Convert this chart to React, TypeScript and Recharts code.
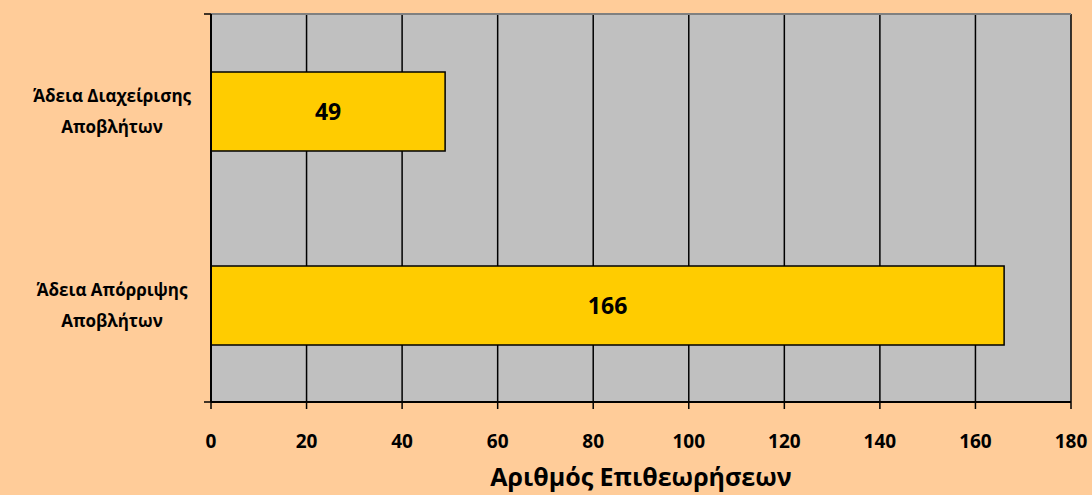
import React from 'react';
import {
  BarChart,
  Bar,
  XAxis,
  YAxis,
  CartesianGrid,
  LabelList,
} from 'recharts';

const categoryLines = [
  ['Άδεια Διαχείρισης', 'Αποβλήτων'],
  ['Άδεια Απόρριψης', 'Αποβλήτων'],
];
const inspections = [49, 166];
const xTicks = [0, 20, 40, 60, 80, 100, 120, 140, 160, 180];
const edgeTicks = [0, 1, 2];

const data = categoryLines.map((lines, i) => ({
  name: lines.join(' '),
  value: inspections[i],
}));

const FONT = '"Open Sans", "Noto Sans", sans-serif';

const CategoryTick = (props: any) => {
  const { x, y, index } = props;
  const lines = categoryLines[index] || [];
  return (
    <text x={x - 84} y={y} textAnchor="middle" fontFamily={FONT} fontWeight="bold" fontSize={17} fill="#000">
      {lines.map((l, i) => (
        <tspan key={i} x={x - 84} dy={i === 0 ? -9 : 31}>
          {l}
        </tspan>
      ))}
    </text>
  );
};

const App: React.FC = () => {
  return (
    <div style={{ position: 'absolute', left: 0, top: 0, width: 1092, height: 495, background: '#FFCC99' }}>
      <BarChart
        width={1092}
        height={495}
        layout="vertical"
        data={data}
        margin={{ top: 13, right: 21, bottom: 0, left: 0 }}
        barCategoryGap={0}
      >
        <CartesianGrid horizontal={false} stroke="#000" strokeWidth={1.5} fill="#C0C0C0" fillOpacity={1} />
        <XAxis
          xAxisId="top"
          orientation="top"
          type="number"
          domain={[0, 180]}
          height={1}
          tick={() => <g />}
          tickLine={false}
          axisLine={{ stroke: '#808080', strokeWidth: 2 }}
        />
        <XAxis
          type="number"
          domain={[0, 180]}
          ticks={xTicks}
          interval={0}
          height={93}
          tickSize={7}
          tickMargin={26}
          axisLine={{ stroke: '#000', strokeWidth: 2 }}
          tickLine={{ stroke: '#000', strokeWidth: 1.5 }}
          tick={{ fill: '#000', fontSize: 19, fontWeight: 'bold', fontFamily: FONT }}
          label={{
            value: 'Αριθμός Επιθεωρήσεων',
            position: 'insideBottom',
            offset: 9,
            fill: '#000',
            fontSize: 25,
            fontWeight: 'bold',
            fontFamily: FONT,
          }}
        />
        <YAxis
          yAxisId="a"
          type="number"
          domain={[0, 2]}
          ticks={edgeTicks}
          interval={0}
          width={7}
          tickSize={7}
          axisLine={{ stroke: '#000', strokeWidth: 2 }}
          tickLine={{ stroke: '#000', strokeWidth: 1.5 }}
          tick={() => <g />}
        />
        <YAxis
          yAxisId="b"
          type="category"
          dataKey="name"
          width={204}
          interval={0}
          tickLine={false}
          axisLine={false}
          tick={<CategoryTick />}
        />
        <Bar
          yAxisId="b"
          dataKey="value"
          fill="#FFCC00"
          stroke="#000"
          strokeWidth={1.5}
          barSize={79}
          isAnimationActive={false}
        >
          <LabelList dataKey="value" position="center" fill="#000" fontSize={23} fontWeight="bold" fontFamily={FONT} />
        </Bar>
      </BarChart>
    </div>
  );
};

export default App;
